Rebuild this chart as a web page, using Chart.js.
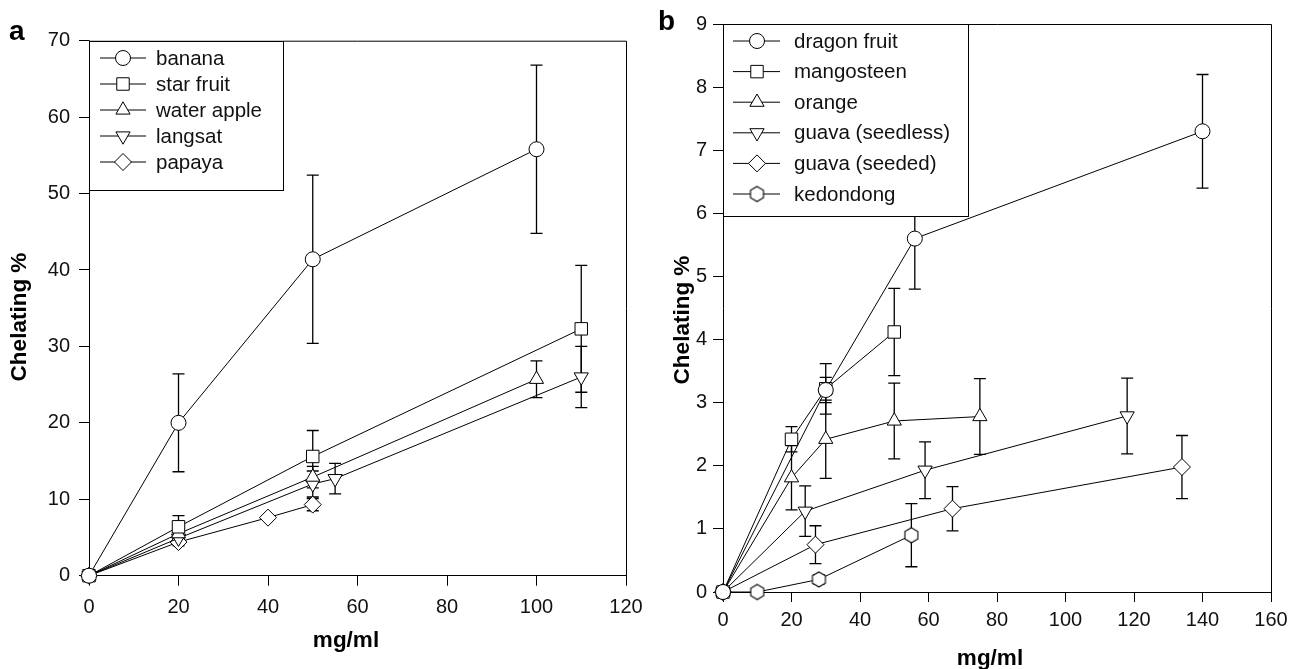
<!DOCTYPE html>
<html><head><meta charset="utf-8">
<script src="https://cdn.jsdelivr.net/npm/chart.js@4.4.1/dist/chart.umd.min.js"></script>
<style>
html,body{margin:0;padding:0;background:#fff;}
#wrap{position:relative;width:1293px;height:669px;overflow:hidden;background:#fff;}
#ca{position:absolute;left:0;top:0;width:646px;height:669px;}
#cb{position:absolute;left:646px;top:0;width:647px;height:669px;}
</style></head><body>
<div id="wrap"><canvas id="ca" width="646" height="669"></canvas><canvas id="cb" width="647" height="669"></canvas></div>
<script>
// ---------- Panel a data ----------
const aXTicks = [0, 20, 40, 60, 80, 100, 120];
const aYTicks = [0, 10, 20, 30, 40, 50, 60, 70];
const aNames = ['banana', 'star fruit', 'water apple', 'langsat', 'papaya'];
const bananaX = [0, 20, 50, 100];
const bananaY = [0, 20.0, 41.4, 55.8];
const bananaErr = [0, 6.4, 11.0, 11.0];
const starFruitX = [0, 20, 50, 110];
const starFruitY = [0, 6.4, 15.6, 32.3];
const starFruitErr = [0, 1.45, 3.4, 8.3];
const waterAppleX = [0, 20, 50, 100];
const waterAppleY = [0, 5.5, 12.9, 25.7];
const waterAppleErr = [0, 0.6, 1.4, 2.4];
const langsatX = [0, 20, 50, 55, 110];
const langsatY = [0, 4.9, 12.0, 12.7, 26.0];
const langsatErr = [0, 0.5, 1.7, 2.0, 4.0];
const papayaX = [0, 20, 40, 50];
const papayaY = [0, 4.4, 7.6, 9.3];
const papayaErr = [0, 0.5, 0, 0.8];

// ---------- Panel b data ----------
const bXTicks = [0, 20, 40, 60, 80, 100, 120, 140, 160];
const bYTicks = [0, 1, 2, 3, 4, 5, 6, 7, 8, 9];
const bNames = ['dragon fruit', 'mangosteen', 'orange', 'guava (seedless)', 'guava (seeded)', 'kedondong'];
const dragonX = [0, 30, 56, 140];
const dragonY = [0, 3.2, 5.6, 7.3];
const dragonErr = [0, 0.2, 0.8, 0.9];
const mangosteenX = [0, 20, 30, 50];
const mangosteenY = [0, 2.42, 3.22, 4.12];
const mangosteenErr = [0, 0.2, 0.4, 0.69];
const orangeX = [0, 20, 30, 50, 75];
const orangeY = [0, 1.81, 2.42, 2.71, 2.78];
const orangeErr = [0, 0.51, 0.62, 0.6, 0.6];
const guavaSeedlessX = [0, 24, 59, 118];
const guavaSeedlessY = [0, 1.28, 1.93, 2.79];
const guavaSeedlessErr = [0, 0.4, 0.45, 0.6];
const guavaSeededX = [0, 27, 67, 134];
const guavaSeededY = [0, 0.75, 1.32, 1.98];
const guavaSeededErr = [0, 0.3, 0.35, 0.5];
const kedondongX = [0, 10, 28, 55];
const kedondongY = [0, 0, 0.2, 0.9];
const kedondongErr = [0, 0, 0.07, 0.5];

const FONT = "'Liberation Sans', Arial, Helvetica, sans-serif";

// hexagon marker image
function makeHexagon(r) {
  const s = Math.ceil(r * 2 + 4);
  const c = document.createElement('canvas');
  c.width = s; c.height = s;
  const g = c.getContext('2d');
  g.beginPath();
  for (let k = 0; k < 6; k++) {
    const ang = -Math.PI / 2 + k * Math.PI / 3;
    const px = s / 2 + r * Math.cos(ang), py = s / 2 + r * Math.sin(ang);
    if (k === 0) g.moveTo(px, py); else g.lineTo(px, py);
  }
  g.closePath();
  g.fillStyle = '#fff'; g.fill();
  g.strokeStyle = '#000'; g.lineWidth = 1.1; g.stroke();
  return c;
}
const hexImg = makeHexagon(7.5);

const STYLES = {
  circle: { pointStyle: 'circle', radius: 7.5, rotation: 0 },
  square: { pointStyle: 'rect', radius: 8.8, rotation: 0 },
  up: { pointStyle: 'triangle', radius: 8.2, rotation: 0 },
  down: { pointStyle: 'triangle', radius: 8.2, rotation: 180 },
  diamond: { pointStyle: 'rectRot', radius: 8.5, rotation: 0 },
  hexagon: { pointStyle: hexImg, radius: 7.5, rotation: 0 }
};

function makeDataset(label, xs, ys, errs, st) {
  const s = STYLES[st];
  return {
    label: label,
    data: xs.map((x, i) => ({ x: x, y: ys[i] })),
    errors: errs,
    markerKey: st,
    borderColor: '#000',
    borderWidth: 1,
    backgroundColor: '#fff',
    pointBackgroundColor: '#fff',
    pointBorderColor: '#000',
    pointBorderWidth: 1,
    pointRadius: s.radius,
    pointHoverRadius: s.radius,
    pointStyle: s.pointStyle,
    pointRotation: s.rotation,
    tension: 0,
    fill: false,
    clip: false
  };
}

function drawMarker(ctx, key, x, y) {
  const s = STYLES[key];
  ctx.save();
  ctx.fillStyle = '#fff'; ctx.strokeStyle = '#000'; ctx.lineWidth = 1;
  if (key === 'hexagon') {
    ctx.drawImage(hexImg, x - hexImg.width / 2, y - hexImg.height / 2);
  } else if (Chart.helpers && Chart.helpers.drawPoint) {
    Chart.helpers.drawPoint(ctx, { pointStyle: s.pointStyle, rotation: s.rotation, radius: s.radius, borderWidth: 1 }, x, y);
  }
  ctx.restore();
}

const errorBarPlugin = {
  id: 'errorBars',
  beforeDatasetsDraw(chart) {
    const ctx = chart.ctx;
    const xs = chart.scales.x, ys = chart.scales.y;
    ctx.save();
    ctx.strokeStyle = '#000';
    ctx.lineWidth = 1.3;
    chart.data.datasets.forEach((ds) => {
      ds.data.forEach((p, j) => {
        const e = ds.errors[j];
        if (!e) return;
        const px = xs.getPixelForValue(p.x);
        const yt = ys.getPixelForValue(p.y + e);
        const yb = ys.getPixelForValue(p.y - e);
        ctx.beginPath();
        ctx.moveTo(px, yt); ctx.lineTo(px, yb);
        ctx.moveTo(px - 6, yt); ctx.lineTo(px + 6, yt);
        ctx.moveTo(px - 6, yb); ctx.lineTo(px + 6, yb);
        ctx.stroke();
      });
    });
    ctx.restore();
  }
};

const framePlugin = {
  id: 'frame',
  beforeDatasetsDraw(chart) {
    const { left, right, top, bottom } = chart.chartArea;
    const ctx = chart.ctx;
    ctx.save();
    ctx.strokeStyle = '#000'; ctx.lineWidth = 1;
    ctx.beginPath();
    ctx.moveTo(left, top + 0.5); ctx.lineTo(right + 0.5, top + 0.5); ctx.lineTo(right + 0.5, bottom);
    ctx.stroke();
    ctx.restore();
  }
};

const legendPlugin = {
  id: 'boxLegend',
  afterDatasetsDraw(chart, args, opts) {
    const ctx = chart.ctx;
    const ca = chart.chartArea;
    const L = ca.left, T = ca.top;
    ctx.save();
    ctx.fillStyle = '#fff';
    ctx.fillRect(L, T, opts.right - L, opts.bottom - T);
    ctx.strokeStyle = '#000'; ctx.lineWidth = 1;
    ctx.strokeRect(Math.round(L) + 0.5, Math.round(T) + 0.5, Math.round(opts.right - L), Math.round(opts.bottom - T));
    ctx.font = opts.fontSize + 'px ' + FONT;
    ctx.textBaseline = 'middle';
    ctx.textAlign = 'left';
    chart.data.datasets.forEach((ds, i) => {
      const y = opts.firstY + i * opts.step;
      ctx.beginPath();
      ctx.lineWidth = 1; ctx.strokeStyle = '#000';
      ctx.moveTo(opts.x1, y); ctx.lineTo(opts.x2, y);
      ctx.stroke();
      drawMarker(ctx, ds.markerKey, opts.xm, y);
      ctx.fillStyle = '#111';
      ctx.fillText(ds.label, opts.xt, y + 1);
    });
    ctx.restore();
  }
};

// panel letter and axis titles (real text drawn on the canvas)
const textPlugin = {
  id: 'panelText',
  afterDraw(chart, args, opts) {
    const ctx = chart.ctx;
    ctx.save();
    ctx.fillStyle = '#000';
    ctx.font = 'bold 28px ' + FONT;
    ctx.textBaseline = 'alphabetic';
    ctx.textAlign = 'left';
    ctx.fillText(opts.letter, opts.lx, opts.ly);
    ctx.font = 'bold ' + opts.titleSize + 'px ' + FONT;
    ctx.textAlign = 'center';
    ctx.textBaseline = 'middle';
    ctx.fillText(opts.xTitle, opts.xtx, opts.xty);
    ctx.translate(opts.ytx, opts.yty);
    ctx.rotate(-Math.PI / 2);
    ctx.fillText(opts.yTitle, 0, 0);
    ctx.restore();
  }
};

function scaleOpts(axis, min, max, ticksArr, fit, tickLen, tickPad) {
  return {
    type: 'linear',
    min: min, max: max,
    afterBuildTicks(scale) { scale.ticks = ticksArr.map(v => ({ value: v })); },
    afterFit(scale) {
      if (axis === 'x') scale.height = fit; else scale.width = fit;
      scale.paddingLeft = 0; scale.paddingRight = 0; scale.paddingTop = 0; scale.paddingBottom = 0;
    },
    grid: { display: true, drawOnChartArea: false, drawTicks: true, tickLength: tickLen, color: '#000', lineWidth: 1 },
    border: { display: true, color: '#000', width: 1 },
    ticks: { color: '#111', font: { family: FONT, size: 20 }, padding: tickPad, autoSkip: false, maxRotation: 0, minRotation: 0 },
    title: { display: false }
  };
}

Chart.defaults.font.family = FONT;

new Chart(document.getElementById('ca'), {
  type: 'line',
  data: {
    datasets: [
      makeDataset(aNames[0], bananaX, bananaY, bananaErr, 'circle'),
      makeDataset(aNames[1], starFruitX, starFruitY, starFruitErr, 'square'),
      makeDataset(aNames[2], waterAppleX, waterAppleY, waterAppleErr, 'up'),
      makeDataset(aNames[3], langsatX, langsatY, langsatErr, 'down'),
      makeDataset(aNames[4], papayaX, papayaY, papayaErr, 'diamond')
    ]
  },
  options: {
    responsive: false, animation: false, events: [],
    layout: { padding: { left: 0, top: 40.7, right: 20, bottom: 0 } },
    scales: {
      x: scaleOpts('x', 0, 120, aXTicks, 93.3, 10, 10),
      y: scaleOpts('y', 0, 70, aYTicks, 89, 10, 9)
    },
    plugins: {
      legend: { display: false }, tooltip: { enabled: false },
      boxLegend: { right: 283, bottom: 190, firstY: 58, step: 26, x1: 100, x2: 146, xm: 123, xt: 156, fontSize: 20.5 },
      panelText: { letter: 'a', lx: 9, ly: 40, titleSize: 22.5, xTitle: 'mg/ml', xtx: 346, xty: 641, yTitle: 'Chelating %', ytx: 20, yty: 317 }
    }
  },
  plugins: [framePlugin, errorBarPlugin, legendPlugin, textPlugin]
});

new Chart(document.getElementById('cb'), {
  type: 'line',
  data: {
    datasets: [
      makeDataset(bNames[0], dragonX, dragonY, dragonErr, 'circle'),
      makeDataset(bNames[1], mangosteenX, mangosteenY, mangosteenErr, 'square'),
      makeDataset(bNames[2], orangeX, orangeY, orangeErr, 'up'),
      makeDataset(bNames[3], guavaSeedlessX, guavaSeedlessY, guavaSeedlessErr, 'down'),
      makeDataset(bNames[4], guavaSeededX, guavaSeededY, guavaSeededErr, 'diamond'),
      makeDataset(bNames[5], kedondongX, kedondongY, kedondongErr, 'hexagon')
    ]
  },
  options: {
    responsive: false, animation: false, events: [],
    layout: { padding: { left: 0, top: 24, right: 22, bottom: 0 } },
    scales: {
      x: scaleOpts('x', 0, 160, bXTicks, 77, 10, 6),
      y: scaleOpts('y', 0, 9, bYTicks, 77, 10, 6)
    },
    plugins: {
      legend: { display: false }, tooltip: { enabled: false },
      boxLegend: { right: 322, bottom: 216, firstY: 41, step: 30.6, x1: 87, x2: 134, xm: 111, xt: 148, fontSize: 20.5 },
      panelText: { letter: 'b', lx: 12, ly: 30, titleSize: 22.5, xTitle: 'mg/ml', xtx: 344, xty: 659, yTitle: 'Chelating %', ytx: 37, yty: 320 }
    }
  },
  plugins: [framePlugin, errorBarPlugin, legendPlugin, textPlugin]
});
</script>
</body></html>
